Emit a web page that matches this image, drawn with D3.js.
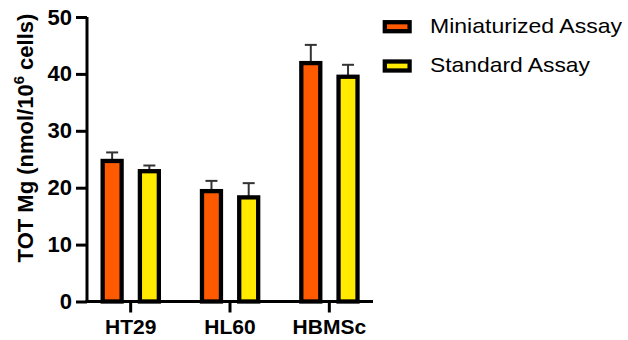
<!DOCTYPE html>
<html><head><meta charset="utf-8">
<script src="https://cdn.jsdelivr.net/npm/d3@7"></script>
<style>html,body{margin:0;padding:0;background:#fff;}</style>
</head><body>
<svg id="c" width="628" height="340"></svg>
<script>
const categories = ["HT29", "HL60", "HBMSc"];
const series = ["Miniaturized Assay", "Standard Assay"];
const miniValues = [24.7, 19.4, 41.9];
const miniErrors = [1.5, 1.8, 3.2];
const stdValues = [22.9, 18.3, 39.5];
const stdErrors = [1.0, 2.5, 2.1];
const yTicks = [0, 10, 20, 30, 40, 50];
const colors = ["#FF5A00", "#FFEA00"];

const svg = d3.select("#c");
const y = d3.scaleLinear().domain([0, 50]).range([301.5, 17]);
const x0 = d3.scaleBand().domain(categories).range([81, 379]);
const x1 = d3.scaleBand().domain(series).range([19.5, 80]).paddingInner(0.375);

const data = [];
categories.forEach((c, i) => {
  data.push({c, s: series[0], v: miniValues[i], e: miniErrors[i], col: colors[0]});
  data.push({c, s: series[1], v: stdValues[i], e: stdErrors[i], col: colors[1]});
});

const sw = 4.3;
const font = "Liberation Sans, Arial, sans-serif";
const g = svg.append("g");
// error bars
const eb = g.selectAll(".eb").data(data).enter().append("g");
eb.append("line")
  .attr("x1", d => x0(d.c) + x1(d.s) + x1.bandwidth()/2)
  .attr("x2", d => x0(d.c) + x1(d.s) + x1.bandwidth()/2)
  .attr("y1", d => y(d.v)).attr("y2", d => y(d.v + d.e))
  .attr("stroke", "#333").attr("stroke-width", 2);
eb.append("line")
  .attr("x1", d => x0(d.c) + x1(d.s) + x1.bandwidth()/2 - 6)
  .attr("x2", d => x0(d.c) + x1(d.s) + x1.bandwidth()/2 + 6)
  .attr("y1", d => y(d.v + d.e)).attr("y2", d => y(d.v + d.e))
  .attr("stroke", "#333").attr("stroke-width", 2);
// bars
g.selectAll(".bar").data(data).enter().append("rect")
  .attr("x", d => x0(d.c) + x1(d.s) + sw/2)
  .attr("width", x1.bandwidth() - sw)
  .attr("y", d => y(d.v))
  .attr("height", d => y(0) - y(d.v))
  .attr("fill", d => d.col)
  .attr("stroke", "#000").attr("stroke-width", sw);

// y axis
const ya = svg.append("g").attr("transform", "translate(87,0)")
  .call(d3.axisLeft(y).tickValues(yTicks).tickSize(11).tickPadding(4));
ya.select(".domain").attr("stroke", "#000").attr("stroke-width", 3).attr("d", `M0,${y(50)}V${y(0)}`);
ya.selectAll(".tick line").attr("stroke", "#000").attr("stroke-width", 3);
ya.selectAll(".tick text").attr("font-family", font)
  .attr("font-weight", "bold").attr("font-size", 22).attr("fill", "#000");

// x axis
const xa = svg.append("g").attr("transform", `translate(0,${y(0)})`)
  .call(d3.axisBottom(x0).tickSize(11).tickPadding(7));
xa.select(".domain").attr("stroke", "#000").attr("stroke-width", 3).attr("d", "M85.5,0H373");
xa.selectAll(".tick line").attr("stroke", "#000").attr("stroke-width", 3);
xa.selectAll(".tick text").attr("font-family", font)
  .attr("font-weight", "bold").attr("font-size", 21).attr("fill", "#000");

// y title
const yt = svg.append("text")
  .attr("transform", "translate(33,138) rotate(-90)")
  .attr("text-anchor", "middle")
  .attr("font-family", font)
  .attr("font-weight", "bold").attr("font-size", 22).attr("fill", "#000");
yt.append("tspan").text("TOT Mg (nmol/10");
yt.append("tspan").text("6").attr("font-size", 15).attr("dy", -9);
yt.append("tspan").text(" cells)").attr("dy", 9);

// legend
const lg = svg.append("g");
series.forEach((s, i) => {
  const yy = 26.7 + i * 39.3;
  lg.append("rect").attr("x", 384.8).attr("y", yy - 4.5).attr("width", 24.8).attr("height", 9)
    .attr("fill", colors[i]).attr("stroke", "#000").attr("stroke-width", sw);
  lg.append("text").attr("x", 430).attr("y", yy + 6.5 - i * 0.5)
    .attr("font-family", font).attr("font-size", 21).attr("fill", "#000")
    .attr("textLength", i === 0 ? 192 : 160).attr("lengthAdjust", "spacingAndGlyphs")
    .text(s);
});
</script>
</body></html>
